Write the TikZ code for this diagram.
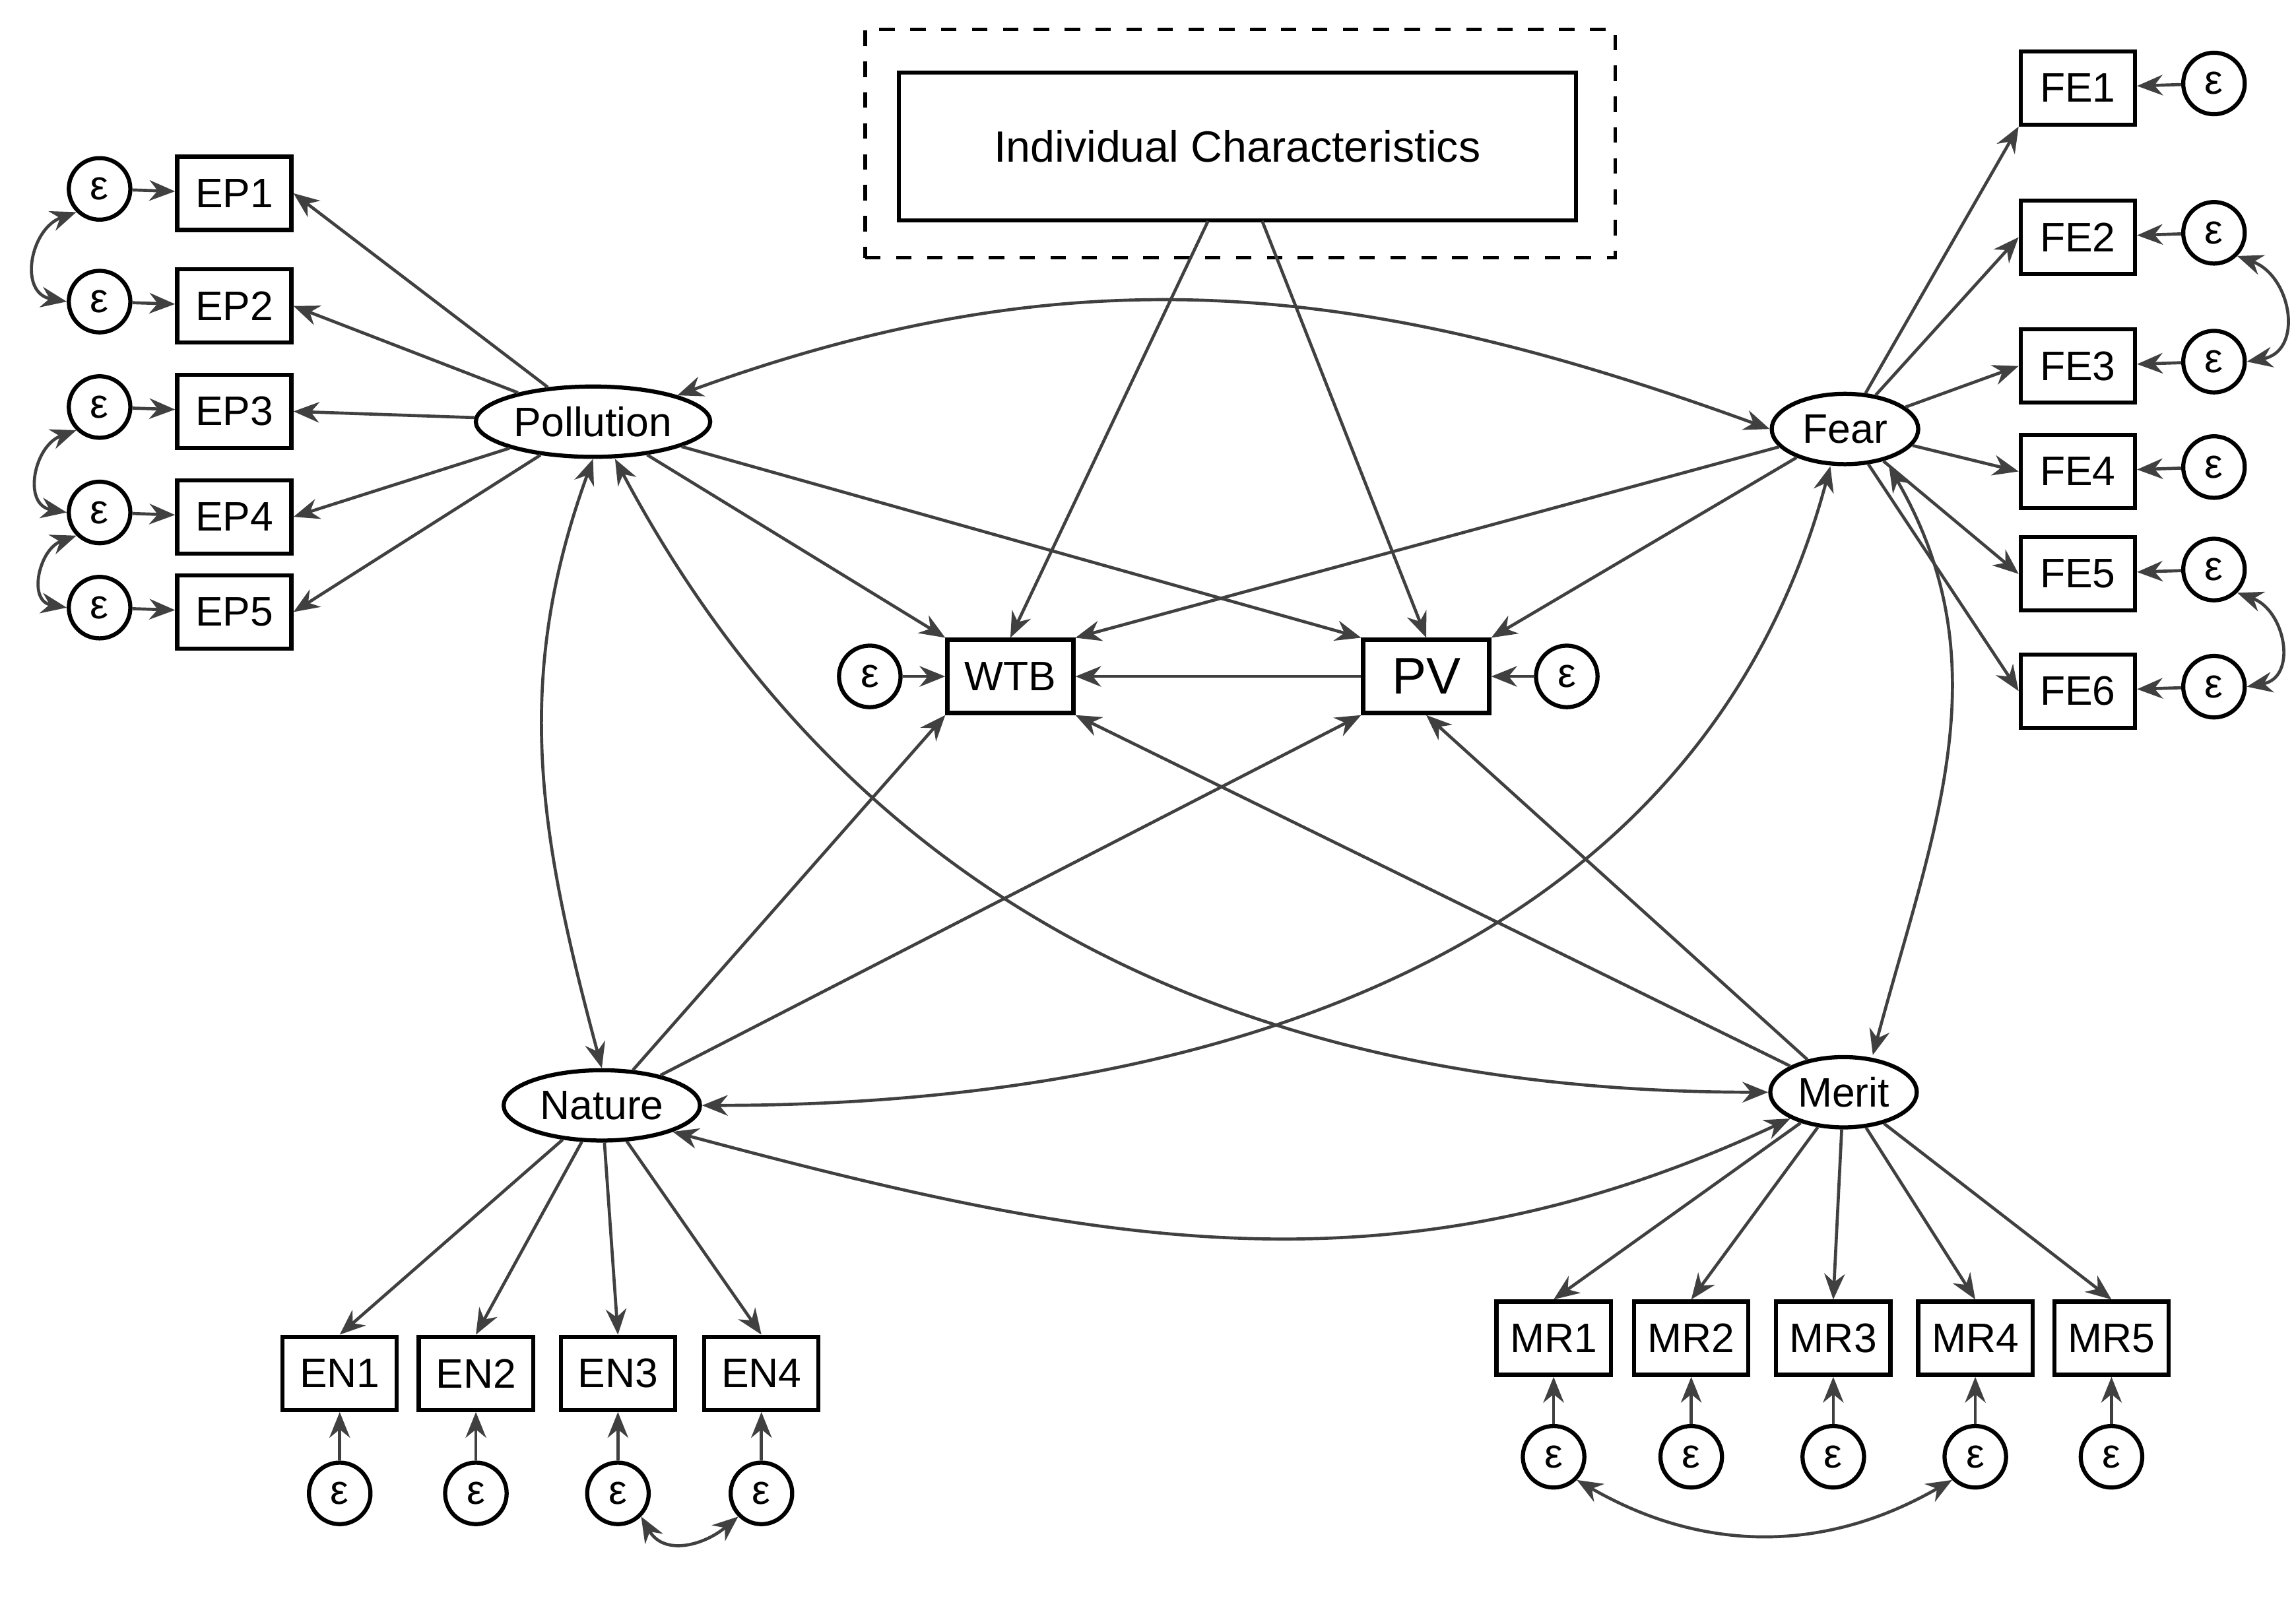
\documentclass[tikz,border=0pt]{standalone}
\usepackage{fontspec}
\setmainfont{Liberation Sans}
\usetikzlibrary{arrows.meta,shapes.geometric}
\begin{document}
\begin{tikzpicture}[x=0.01cm,y=-0.01cm,
  ln/.style={draw=black!75,line width=0.6pt},
  arr/.style={ln,-{Stealth[length=5pt,width=4pt]}},
  darr/.style={ln,{Stealth[length=5pt,width=4pt]}-{Stealth[length=5pt,width=4pt]}},
  obs/.style={draw=black,line width=0.8pt,minimum width=0.78cm,minimum height=0.5cm,inner sep=0pt,font=\fontsize{8}{9}\selectfont},
  lat/.style={draw=black,line width=0.8pt,ellipse,inner sep=0pt,minimum height=0.48cm,font=\fontsize{8}{9}\selectfont},
  err/.style={draw=black,line width=0.8pt,circle,minimum size=0.42cm,inner sep=0pt,font=\fontsize{8}{9}\selectfont}]
\useasboundingbox (0,0) rectangle (1568,1105);
\node[draw,dashed,line width=0.7pt,minimum width=5.12cm,minimum height=1.56cm] (dash) at (847,98) {};
\node[draw,line width=0.8pt,minimum width=4.62cm,minimum height=1.01cm,font=\fontsize{8.5}{10}\selectfont] (ic) at (845,100) {Individual Characteristics};
\coordinate (ic1) at (825,151); \coordinate (ic2) at (862,151);
\node[lat,minimum width=1.6cm] (pol) at (405,288) {Pollution};
\node[lat,minimum width=1.0cm] (fear) at (1260,293) {Fear};
\node[lat,minimum width=1.34cm] (nat) at (411,755) {Nature};
\node[lat,minimum width=1.0cm] (mer) at (1259,746) {Merit};
\node[obs,minimum width=0.86cm] (wtb) at (690,462) {WTB};
\node[obs,minimum width=0.86cm,font=\fontsize{10}{11}\selectfont] (pv) at (974,462) {PV};
\node[err] (ew) at (594,462) {ε}; \node[err] (ep) at (1070,462) {ε};
\draw[arr] (ew)--(wtb); \draw[arr] (ep)--(pv);
\foreach \i/\y in {1/132,2/209,3/281,4/353,5/418}{
  \node[obs] (EP\i) at (160,\y) {EP\i};
  \node[err] (eEP\i) at (68,\y-3) {ε};
  \draw[arr] (eEP\i)--(EP\i);
  \draw[arr] (pol)--(EP\i.east);}
\foreach \i/\y in {1/60,2/162,3/250,4/322,5/392,6/472}{
  \node[obs] (FE\i) at (1419,\y) {FE\i};
  \node[err] (eFE\i) at (1512,\y-3) {ε};
  \draw[arr] (eFE\i)--(FE\i);}
\draw[arr] (fear)--(FE1.south west);
\foreach \i in {2,...,6}{\draw[arr] (fear)--(FE\i.west);}
\foreach \i/\x in {1/232,2/325,3/422,4/520}{
  \node[obs] (EN\i) at (\x,938) {EN\i};
  \node[err] (eEN\i) at (\x,1020) {ε};
  \draw[arr] (eEN\i)--(EN\i);
  \draw[arr] (nat)--(EN\i.north);}
\foreach \i/\x in {1/1061,2/1155,3/1252,4/1349,5/1442}{
  \node[obs] (MR\i) at (\x,914) {MR\i};
  \node[err] (eMR\i) at (\x,995) {ε};
  \draw[arr] (eMR\i)--(MR\i);
  \draw[arr] (mer)--(MR\i.north);}
% error covariances
\draw[darr] (eEP1.south west) to[out=200,in=170,looseness=1.4] (eEP2.west);
\draw[darr] (eEP3.south west) to[out=200,in=170,looseness=1.4] (eEP4.west);
\draw[darr] (eEP4.south west) to[out=200,in=170,looseness=1.4] (eEP5.west);
\draw[darr] (eFE2.south east) to[out=-20,in=10,looseness=1.4] (eFE3.east);
\draw[darr] (eFE5.south east) to[out=-20,in=10,looseness=1.4] (eFE6.east);
\draw[darr] (eEN3.south east) to[out=-60,in=220,looseness=1.2] (eEN4.south west);
\draw[darr] (eMR1.south east) to[out=-30,in=210] (eMR4.south west);
% structural paths
\draw[arr] (ic1)--(wtb.north); \draw[arr] (ic2)--(pv.north);
\draw[arr] (pol)--(wtb.north west);
\draw[arr] (pol)--(pv.north west);
\draw[arr] (fear)--(wtb.north east);
\draw[arr] (fear)--(pv.north east);
\draw[arr] (nat)--(wtb.south west);
\draw[arr] (nat)--(pv.south west);
\draw[arr] (mer)--(wtb.south east);
\draw[arr] (mer)--(pv.south);
\draw[arr] (pv)--(wtb);
% latent covariances
\draw[darr] (pol.north east) to[out=20,in=160] (fear.west);
\draw[darr] (pol.south) to[out=250,in=105] (nat.north);
\draw[darr] ([xshift=0.15cm]pol.south) to[out=-62,in=180] (mer.west);
\draw[darr] ([xshift=-0.1cm]fear.south) to[out=-105,in=0] (nat.east);
\draw[darr] ([xshift=0.3cm]fear.south) to[out=-60,in=75] ([xshift=0.2cm]mer.north);
\draw[darr] (nat.south east) to[out=-15,in=-155] (mer.south west);
\end{tikzpicture}
\end{document}
